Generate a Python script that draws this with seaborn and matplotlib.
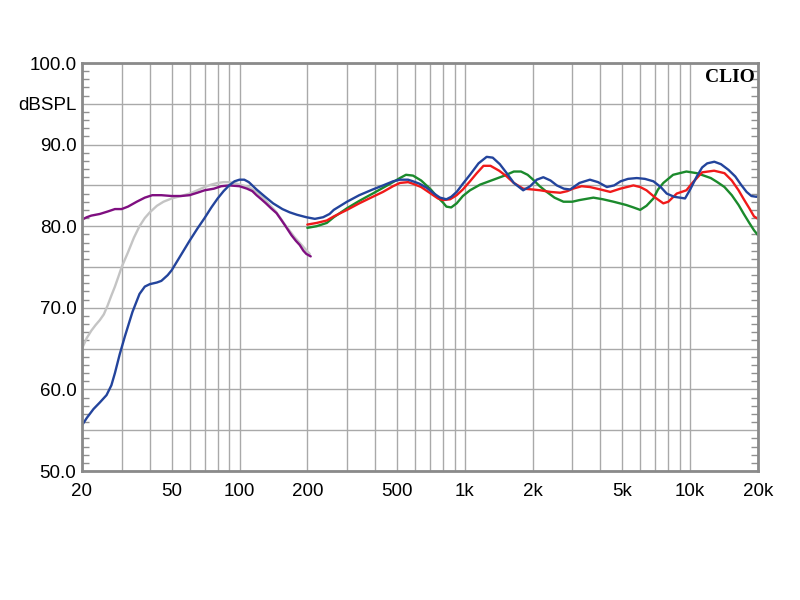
import numpy as np
import pandas as pd
import matplotlib
matplotlib.use("Agg")
import matplotlib.pyplot as plt
import seaborn as sns

# ---------------- data ----------------
grey_f = [20, 21, 22, 23, 24, 25, 26, 27, 28, 29, 30, 32, 34, 36, 38, 40, 43, 46, 50, 55, 60, 65, 70, 75,
          80, 85, 90, 95, 100, 110, 120, 130, 145, 160, 175, 190, 205]
grey_v = [65.0, 66.3, 67.2, 67.9, 68.5, 69.2, 70.3, 71.5, 72.6, 73.8, 75.0, 76.8, 78.6, 80.0, 81.0, 81.7, 82.5,
          83.0, 83.4, 83.7, 84.0, 84.4, 84.8, 85.1, 85.3, 85.4, 85.4, 85.3, 85.1, 84.8, 84.1, 83.2, 81.8, 80.1,
          78.7, 77.6, 76.6]

purple_f = [20, 21, 22, 24, 26, 28, 30, 32, 35, 38, 41, 45, 50, 55, 60, 65, 70, 77, 83, 90, 100, 108, 114,
            119, 125, 131, 138, 146, 153, 161, 170, 178, 185, 192, 198, 207]
purple_v = [80.8, 81.1, 81.3, 81.5, 81.8, 82.1, 82.1, 82.4, 83.0, 83.5, 83.8, 83.8, 83.7, 83.7, 83.8, 84.1,
            84.4, 84.6, 84.9, 85.0, 84.9, 84.6, 84.3, 83.8, 83.3, 82.8, 82.2, 81.6, 80.8, 79.9, 78.9, 78.2,
            77.7, 77.0, 76.6, 76.3]

blue_f = [20, 21, 22.5, 24, 25.7, 27, 28, 29.4, 31, 33.5, 36, 38, 40, 43, 45, 48, 50, 54.5, 60, 65, 70, 75,
          80, 85, 90, 95, 100, 105, 110, 119, 130, 141, 155, 167, 180, 198, 216, 235, 251, 262, 300, 340, 390,
          434, 480, 515, 560, 589, 630, 678, 730, 776, 828, 870, 920, 980, 1054, 1150, 1250, 1330, 1430, 1534,
          1650, 1815, 1950, 2085, 2230, 2400, 2560, 2750, 2935, 3225, 3590, 3900, 4270, 4600, 4910, 5300,
          5795, 6300, 6870, 7400, 7870, 8500, 9000, 9490, 10000, 10700, 11300, 11900, 12800, 13700, 14800,
          15850, 16800, 17800, 18700, 19700, 20000]
blue_v = [55.6, 56.5, 57.6, 58.4, 59.3, 60.5, 62.0, 64.3, 66.5, 69.5, 71.7, 72.6, 72.9, 73.1, 73.3, 74.0,
          74.6, 76.3, 78.2, 79.7, 81.0, 82.3, 83.4, 84.3, 85.0, 85.5, 85.7, 85.7, 85.4, 84.5, 83.6, 82.8, 82.1,
          81.7, 81.4, 81.1, 80.9, 81.1, 81.5, 82.0, 83.0, 83.8, 84.5, 85.0, 85.5, 85.7, 85.7, 85.5, 85.2, 84.7,
          84.0, 83.5, 83.3, 83.6, 84.2, 85.2, 86.3, 87.7, 88.5, 88.4, 87.6, 86.5, 85.3, 84.4, 84.9, 85.7, 86.0,
          85.6, 85.0, 84.6, 84.5, 85.3, 85.7, 85.4, 84.8, 85.0, 85.5, 85.8, 85.9, 85.8, 85.5, 84.8, 84.0, 83.6,
          83.5, 83.4, 84.5, 86.1, 87.2, 87.7, 87.9, 87.6, 86.9, 86.1, 85.1, 84.2, 83.7, 83.6, 83.7]

red_f = [200, 220, 244, 262, 300, 340, 390, 433, 480, 515, 560, 589, 640, 706, 760, 800, 860, 920, 980, 1054,
         1130, 1210, 1300, 1420, 1534, 1650, 1815, 2000, 2160, 2400, 2650, 2850, 3020, 3300, 3590, 4000, 4420,
         4900, 5600, 6000, 6400, 7000, 7600, 8000, 8720, 9620, 10300, 11300, 12770, 14200, 15300, 16400,
         17300, 18300, 19200, 20000]
red_v = [80.2, 80.4, 80.7, 81.2, 82.0, 82.8, 83.6, 84.2, 84.9, 85.3, 85.4, 85.2, 84.8, 84.0, 83.4, 83.2, 83.3,
         83.8, 84.5, 85.5, 86.5, 87.4, 87.4, 86.8, 86.1, 85.3, 84.6, 84.5, 84.4, 84.2, 84.1, 84.3, 84.6, 84.9,
         84.8, 84.5, 84.2, 84.6, 85.0, 84.8, 84.4, 83.5, 82.8, 83.0, 84.0, 84.4, 85.4, 86.6, 86.8, 86.5, 85.6,
         84.4, 83.3, 82.2, 81.2, 80.9]

green_f = [200, 220, 244, 262, 300, 340, 390, 433, 480, 515, 548, 589, 640, 706, 760, 800, 828, 870, 920, 980,
           1054, 1170, 1340, 1500, 1650, 1775, 1900, 2010, 2150, 2310, 2500, 2740, 3000, 3225, 3720, 4100, 4570,
           5200, 5600, 6000, 6400, 6870, 7200, 7600, 8400, 9620, 10700, 11500, 12350, 13200, 14200, 15300,
           16400, 17300, 18300, 19200, 20000]
green_v = [79.8, 80.0, 80.4, 81.1, 82.2, 83.1, 84.0, 84.7, 85.4, 85.9, 86.3, 86.2, 85.6, 84.5, 83.5, 82.9,
           82.4, 82.3, 82.8, 83.7, 84.4, 85.1, 85.7, 86.2, 86.7, 86.7, 86.3, 85.7, 84.9, 84.2, 83.5, 83.0, 83.0,
           83.2, 83.5, 83.3, 83.0, 82.6, 82.3, 82.0, 82.5, 83.4, 84.5, 85.3, 86.3, 86.7, 86.5, 86.2, 85.9, 85.4,
           84.8, 83.8, 82.6, 81.5, 80.4, 79.5, 78.9]

x_major = [20, 50, 100, 200, 500, 1000, 2000, 5000, 10000, 20000]
x_labels = ["20", "50", "100", "200", "500", "1k", "2k", "5k", "10k", "20k"]
y_major = [50, 55, 60, 65, 70, 75, 80, 85, 90, 95, 100]
y_labels = ["50.0", "", "60.0", "", "70.0", "", "80.0", "", "90.0", "dBSPL", "100.0"]

# ---------------- plotting ----------------
sns.set_theme(style="white")
plt.rcParams['font.family'] = ['Liberation Sans', 'DejaVu Sans']

fig = plt.figure(figsize=(8, 6), dpi=100)
ax = fig.add_axes([0.1025, 0.215, 0.845, 0.68])

series = [
    (grey_f, grey_v, "#c4c4c4"),
    (purple_f, purple_v, "#7f0f80"),
    (green_f, green_v, "#1b8a2c"),
    (red_f, red_v, "#f01a1a"),
    (blue_f, blue_v, "#23449c"),
]
for f, v, c in series:
    df = pd.DataFrame({"f": f, "v": v})
    sns.lineplot(data=df, x="f", y="v", ax=ax, color=c, linewidth=1.7, estimator=None, sort=True)

ax.set_xscale("log")
ax.set_xlim(20, 20000)
ax.set_ylim(50, 100)

minor_x = []
for dec in [10, 100, 1000, 10000]:
    for m in range(1, 10):
        val = m * dec
        if 20 <= val <= 20000 and val not in x_major:
            minor_x.append(val)
ax.set_xticks(x_major)
ax.set_xticklabels(x_labels)
ax.set_xticks(minor_x, minor=True)
ax.set_xticklabels([], minor=True)

ax.set_yticks(y_major)
ax.set_yticklabels(y_labels)
ax.set_yticks(np.arange(50, 101, 1), minor=True)

ax.grid(True, which="major", axis="both", color="#a9a9a9", linewidth=1.0)
ax.grid(True, which="minor", axis="x", color="#a9a9a9", linewidth=1.0)
ax.set_axisbelow(True)

ax.tick_params(axis="x", which="both", length=0, pad=9, labelsize=13.5, colors="black")
ax.tick_params(axis="y", which="major", length=0, pad=4, labelsize=13.5, colors="black")
ax.tick_params(axis="y", which="minor", length=5, width=1, direction="in", color="#909090",
               left=True, right=True)

for s in ax.spines.values():
    s.set_color("#8a8a8a")
    s.set_linewidth(2)

ax.set_xlabel("")
ax.set_ylabel("")

ax.text(0.996, 0.985, "CLIO", transform=ax.transAxes, ha="right", va="top",
        fontfamily="Liberation Serif", fontweight="bold", fontsize=14, color="black")

fig.savefig("out.png", dpi=100, facecolor="white")
